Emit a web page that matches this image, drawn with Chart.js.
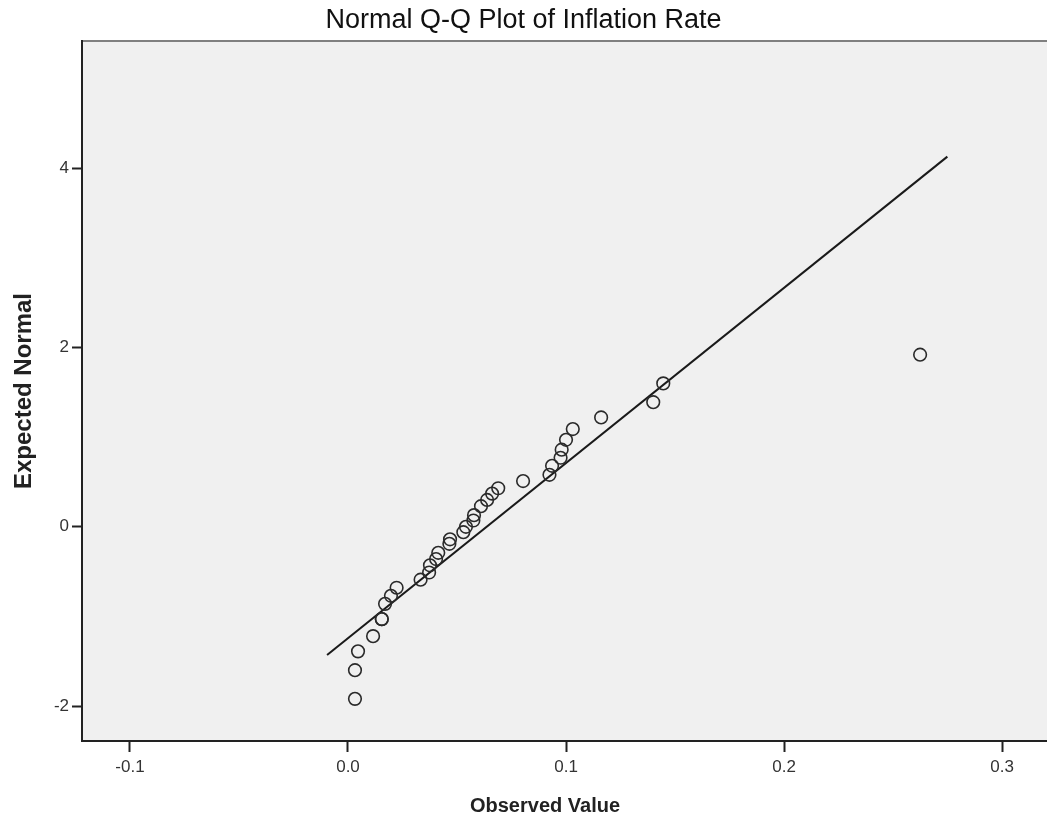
<!DOCTYPE html>
<html lang="en">
<head>
    <meta charset="UTF-8">
    <title>Normal Q-Q Plot of Inflation Rate</title>
    <script src="https://cdn.jsdelivr.net/npm/chart.js"></script>
    <style>
        body { margin: 0; background: #fff; overflow: hidden; }
    </style>
</head>
<body>
    <canvas id="qqChart" width="1047" height="823"></canvas>

    <script>
// observed inflation rates (x) and expected normal quantiles (y)
const observed = [0.0032, 0.0032, 0.0046, 0.0115, 0.0155, 0.0155, 0.0170, 0.0197, 0.0223, 0.0333,
                  0.0372, 0.0376, 0.0404, 0.0414, 0.0465, 0.0468, 0.0529, 0.0541, 0.0575, 0.0578,
                  0.0610, 0.0638, 0.0661, 0.0689, 0.0803, 0.0924, 0.0936, 0.0975, 0.0980, 0.1000,
                  0.1031, 0.1161, 0.1400, 0.1446, 0.2624];
const expected = [-1.92, -1.60, -1.39, -1.22, -1.03, -1.03, -0.86, -0.77, -0.68, -0.59,
                  -0.51, -0.43, -0.36, -0.29, -0.19, -0.14, -0.06, 0.00, 0.07, 0.13,
                  0.23, 0.30, 0.37, 0.43, 0.51, 0.58, 0.68, 0.77, 0.86, 0.97,
                  1.09, 1.22, 1.39, 1.60, 1.92];

// reference line end points
const lineX = [-0.0096, 0.2749];
const lineY = [-1.43, 4.13];

const xTicks = [-0.1, 0.0, 0.1, 0.2, 0.3];
const yTicks = [-2, 0, 2, 4];

const fontFamily = '"Liberation Sans", Arial, sans-serif';

// grey plot background plus the top frame line
const plotBackground = {
    id: 'plotBackground',
    beforeDraw(chart) {
        const { ctx, chartArea: a } = chart;
        ctx.save();
        ctx.fillStyle = '#f0f0f0';
        ctx.fillRect(a.left, a.top, a.right - a.left, a.bottom - a.top);
        ctx.strokeStyle = '#808080';
        ctx.lineWidth = 2;
        ctx.beginPath();
        ctx.moveTo(a.left, a.top);
        ctx.lineTo(a.right, a.top);
        ctx.stroke();
        ctx.restore();
    }
};

// x axis title, SPSS centres it a little left of the plot middle
const xAxisTitle = {
    id: 'xAxisTitle',
    afterDraw(chart) {
        const ctx = chart.ctx;
        ctx.save();
        ctx.font = 'bold 20px ' + fontFamily;
        ctx.fillStyle = '#222';
        ctx.textAlign = 'center';
        ctx.textBaseline = 'middle';
        ctx.fillText('Observed Value', 545, 806);
        ctx.restore();
    }
};

const ctx = document.getElementById('qqChart').getContext('2d');
const myChart = new Chart(ctx, {
    type: 'scatter',
    data: {
        datasets: [{
            label: 'Observed',
            data: observed.map((x, i) => ({ x: x, y: expected[i] })),
            pointStyle: 'circle',
            pointRadius: 6.3,
            pointHoverRadius: 6.3,
            pointBorderWidth: 1.6,
            pointBorderColor: '#2a2a2a',
            pointBackgroundColor: 'rgba(0,0,0,0)',
            order: 1
        }, {
            label: 'Line',
            data: lineX.map((x, i) => ({ x: x, y: lineY[i] })),
            showLine: true,
            borderColor: '#1a1a1a',
            borderWidth: 2,
            pointRadius: 0,
            order: 2
        }]
    },
    options: {
        responsive: false,
        animation: false,
        layout: { padding: 0, autoPadding: false },
        plugins: {
            legend: { display: false },
            tooltip: { enabled: false },
            title: {
                display: true,
                text: 'Normal Q-Q Plot of Inflation Rate',
                color: '#111',
                font: { family: fontFamily, size: 27, weight: 'normal' },
                padding: { top: 4.8, bottom: 3.8 }
            }
        },
        scales: {
            x: {
                type: 'linear',
                min: -0.122,
                max: 0.3206,
                afterBuildTicks: scale => { scale.ticks = xTicks.map(v => ({ value: v })); },
                afterFit: scale => {
                    scale.height = 82;
                    scale.paddingLeft = 0;
                    scale.paddingRight = 0;
                },
                ticks: {
                    color: '#333',
                    padding: 5,
                    font: { family: fontFamily, size: 17 },
                    callback: v => v.toFixed(1)
                },
                grid: { drawOnChartArea: false, tickLength: 11, tickWidth: 2, tickColor: '#222' },
                border: { color: '#222', width: 2 },
                title: { display: false }
            },
            y: {
                type: 'linear',
                min: -2.39,
                max: 5.42,
                afterBuildTicks: scale => { scale.ticks = yTicks.map(v => ({ value: v })); },
                afterFit: scale => {
                    scale.width = 82;
                    scale.paddingTop = 0;
                    scale.paddingBottom = 0;
                },
                ticks: {
                    color: '#333',
                    padding: 3,
                    font: { family: fontFamily, size: 17 },
                    callback: v => String(v)
                },
                grid: { drawOnChartArea: false, tickLength: 10, tickWidth: 2, tickColor: '#222' },
                border: { color: '#222', width: 2 },
                title: {
                    display: true,
                    text: 'Expected Normal',
                    color: '#222',
                    font: { family: fontFamily, size: 24, weight: 'bold' },
                    padding: { top: 10, bottom: 0 }
                }
            }
        }
    },
    plugins: [plotBackground, xAxisTitle]
});
    </script>
</body>
</html>
